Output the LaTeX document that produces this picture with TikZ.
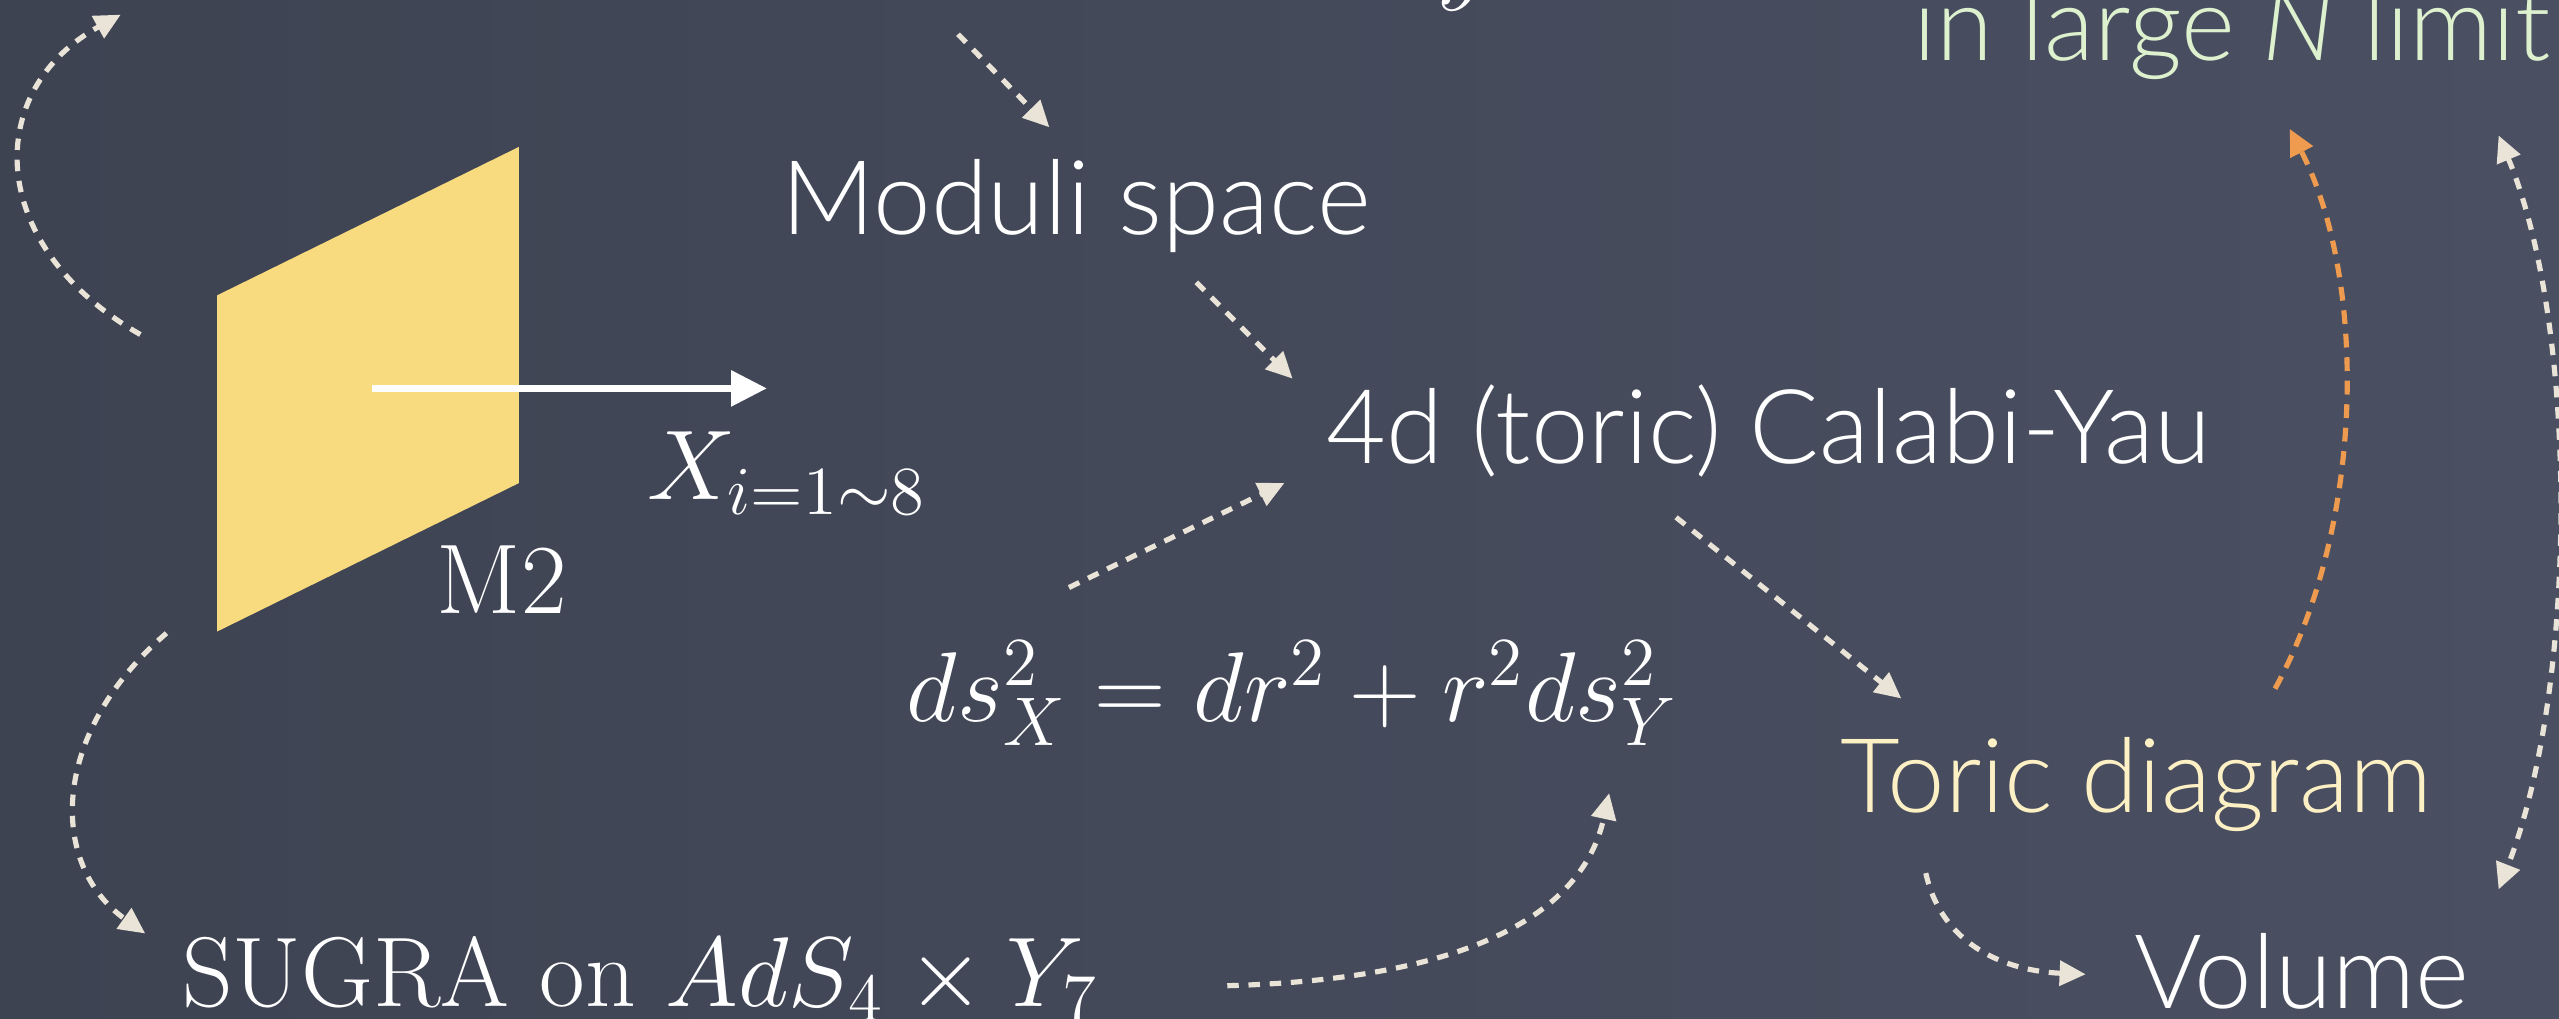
\documentclass[tikz,border=0pt]{standalone}
\usepackage{fontspec}
\newfontfamily\chalkfont{Lato Light}
\usetikzlibrary{arrows.meta}
\definecolor{boardleft}{HTML}{3E4352}
\definecolor{boardmid}{HTML}{535A6E}
\definecolor{boardright}{HTML}{4A5062}
\definecolor{chalk}{HTML}{EAE4D8}
\definecolor{brane}{HTML}{F8DA7F}
\definecolor{toricyellow}{HTML}{FDF0C4}
\definecolor{limitgreen}{HTML}{DDF1CF}
\definecolor{chalkorange}{HTML}{EE9B4F}

\begin{document}
\begin{tikzpicture}[
        x=0.1mm, y=-0.1mm,
        >={Triangle[length=1.6mm, width=1.5mm]},
        word/.style={anchor=base west, inner sep=0pt, text=white, font=\chalkfont\fontsize{18}{22}\selectfont},
        formula/.style={anchor=base west, inner sep=0pt, text=white, font=\LARGE},
        chalkline/.style={draw=chalk, line width=0.9pt, dash pattern=on 2pt off 1.7pt},
        orangeline/.style={draw=chalkorange, line width=0.9pt, dash pattern=on 2.4pt off 1.7pt},
        axis/.style={draw=white, line width=1.35pt, -{Triangle[length=2.2mm, width=2.1mm]}}
    ]
        \clip (0,0) rectangle (1568,624);
        \shade[left color=boardleft, middle color=boardmid, right color=boardright] (0,0) rectangle (1568,624);

        % M2 brane
        \coordinate (b1) at (133,181);
        \coordinate (b2) at (318,90);
        \coordinate (b3) at (318,296);
        \coordinate (b4) at (133,387);
        \fill[brane] (b1) -- (b2) -- (b3) -- (b4) -- cycle;
        \coordinate (xstart) at (228,238);
        \coordinate (xend) at (470,238);
        \draw[axis] (xstart) -- (xend);

        % Nodes
        \node[formula] (xi) at (396,306) {$X_{i=1\sim8}$};
        \node[formula] (m2) at (267,376) {M2};
        \node[formula] (ytail) at (880,-5) {$y$};
        \node[word] (moduli) at (478,143.6) {Moduli space};
        \node[word] (cy) at (812,284) {4d (toric) Calabi-Yau};
        \node[formula] (metric) at (555,442) {$ds^2_X = dr^2 + r^2 ds^2_Y$};
        \node[formula] (sugra) at (111,617) {SUGRA on $AdS_4\times Y_7$};
        \node[word, text=toricyellow] (toric) at (1127,498) {Toric diagram};
        \node[word] (volume) at (1307,618) {Volume};
        \node[word, text=limitgreen] (limit) at (1172,37) {in large {\itshape N} limit};

        % free ends
        \coordinate (offleft) at (74,9);
        \coordinate (offtop) at (587,21);

        % Edges
        \draw[chalkline, ->] ([shift={(-47,24)}]b1) .. controls (-10,150) and (-10,55) .. (offleft);
        \draw[chalkline, ->] ([shift={(-31,1)}]b4) .. controls (30,450) and (30,530) .. ([shift={(-22,-45)}]sugra.base west);
        \draw[chalkline, ->] (offtop) -- ([shift={(165,-65.6)}]moduli.base west);
        \draw[chalkline, ->] ([shift={(255,29.4)}]moduli.base west) -- ([shift={(-20,-52)}]cy.base west);
        \draw[chalkline, ->] ([shift={(100,-82)}]metric.base west) -- ([shift={(-25,12)}]cy.base west);
        \draw[chalkline, ->] ([shift={(215,33)}]cy.base west) -- ([shift={(38,-70)}]toric.base west);
        \draw[chalkline, ->] ([shift={(641,-13)}]sugra.base west) .. controls (900,600) and (970,560) .. ([shift={(431,44)}]metric.base west);
        \draw[chalkline, ->] ([shift={(53,37)}]toric.base west) .. controls (1190,580) and (1230,595) .. ([shift={(-29,-21)}]volume.base west);
        \draw[orangeline, ->] ([shift={(267,-76)}]toric.base west) .. controls (1450,320) and (1450,170) .. ([shift={(231,42)}]limit.base west);
        \draw[chalkline, <->] ([shift={(359,46)}]limit.base west) .. controls (1580,200) and (1580,420) .. ([shift={(224,-73)}]volume.base west);

\end{tikzpicture}
\end{document}
